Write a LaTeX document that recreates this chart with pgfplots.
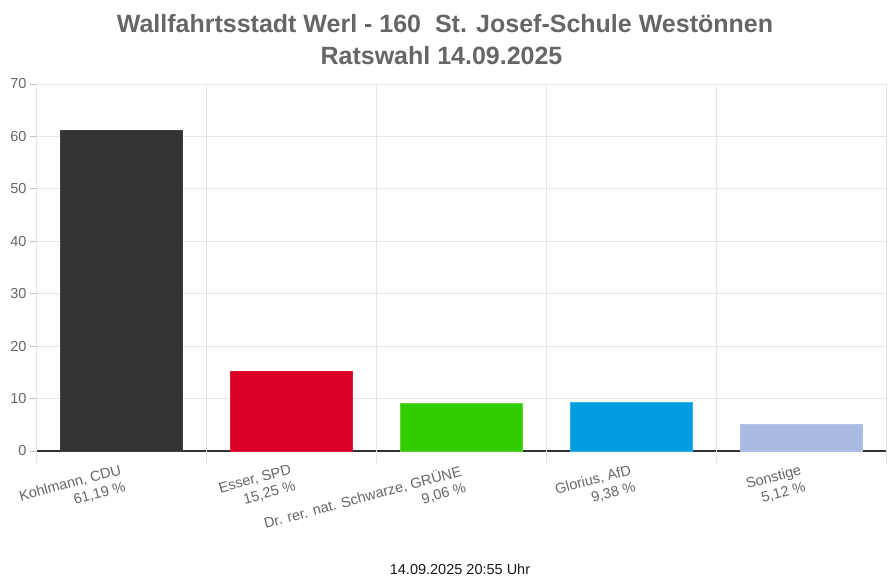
\documentclass[border=0pt]{standalone}
\usepackage{pgfplots}
\pgfplotsset{compat=1.18}
\usepackage{fontspec}
\setmainfont{Liberation Sans}
\definecolor{txtgray}{HTML}{666666}
\definecolor{gridgray}{HTML}{E5E5E5}
\definecolor{cCDU}{HTML}{333333}
\definecolor{cSPD}{HTML}{D80027}
\definecolor{cGRUENE}{HTML}{33CC00}
\definecolor{cAFD}{HTML}{009EE0}
\definecolor{cSONST}{HTML}{AABBE3}
\begin{document}
\begin{tikzpicture}[x=1pt,y=1pt]
\path[use as bounding box] (0,0) rectangle (890,585);
\node[font=\fontsize{25}{30}\selectfont\bfseries, text=txtgray] at (445,561) {Wallfahrtsstadt Werl - 160\ \ St. Josef-Schule Westönnen};
\node[font=\fontsize{25}{30}\selectfont\bfseries, text=txtgray] at (441.5,529) {Ratswahl 14.09.2025};
\node[font=\fontsize{14.5}{17}\selectfont, text=black!90] at (460,16) {14.09.2025 20:55 Uhr};
\begin{axis}[
  at={(36pt,134pt)}, anchor=south west,
  scale only axis, width=850pt, height=367pt,
  xmin=-0.5, xmax=4.5, ymin=0, ymax=70,
  ybar, bar width=122pt,
  axis x line*=bottom, axis y line*=left,
  x axis line style={draw=black!80, line width=1.3pt},
  y axis line style={draw=gray!70, line width=0.8pt},
  ytick={0,10,...,70},
  ymajorgrids, grid style={draw=gridgray, line width=0.8pt},
  tick align=outside, major tick length=6pt,
  ytick style={draw=gray!50, line width=0.8pt},
  xtick={0,1,2,3,4},
  xtick style={draw=none},
  xticklabels={{Kohlmann, CDU\\61,19 \%},{Esser, SPD\\15,25 \%},{Dr. rer. nat. Schwarze, GRÜNE\\9,06 \%},{Glorius, AfD\\9,38 \%},{Sonstige\\5,12 \%}},
  xticklabel style={rotate=15, anchor=north east, align=right, font=\fontsize{14.5}{17}\selectfont, text=txtgray, yshift=-3pt},
  yticklabel style={font=\fontsize{14.5}{17}\selectfont, text=txtgray},
  /pgf/number format/assume math mode=true,
  extra x ticks={-0.5,0.5,1.5,2.5,3.5,4.5},
  extra x tick labels={},
  extra x tick style={xmajorgrids=true, major tick length=12pt, xtick style={draw=gridgray, line width=0.8pt}},
  clip=false,
]
\addplot[bar shift=0pt, fill=cCDU, draw=black!75] coordinates {(0,61.19)};
\addplot[bar shift=0pt, fill=cSPD, draw=cSPD!90!white] coordinates {(1,15.25)};
\addplot[bar shift=0pt, fill=cGRUENE, draw=cGRUENE!80!white] coordinates {(2,9.06)};
\addplot[bar shift=0pt, fill=cAFD, draw=cAFD!80!white] coordinates {(3,9.38)};
\addplot[bar shift=0pt, fill=cSONST, draw=cSONST!90!white] coordinates {(4,5.12)};
\end{axis}
\end{tikzpicture}
\end{document}
